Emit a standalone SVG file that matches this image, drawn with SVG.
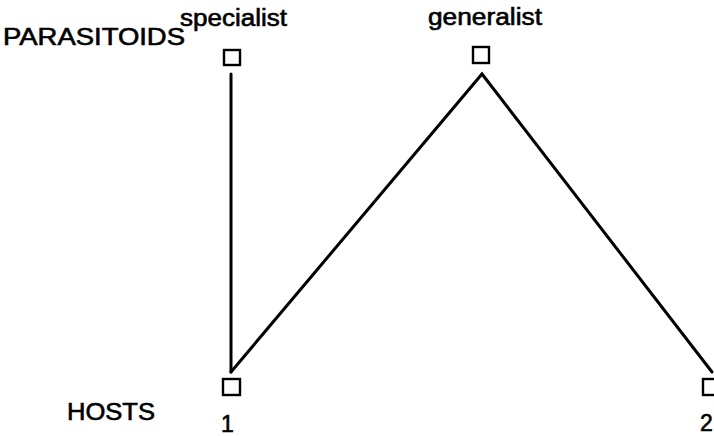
<svg xmlns="http://www.w3.org/2000/svg" width="714" height="436" viewBox="0 0 714 436">
  <style>
    .bg { fill: #ffffff; }
    .node { fill: #ffffff; stroke: #000000; stroke-width: 2.4; }
    .link { fill: none; stroke: #000000; stroke-width: 3; stroke-linecap: round; stroke-linejoin: miter; }
    .lbl { font-family: "Liberation Sans", Arial, sans-serif; font-size: 23px; fill: #000000; stroke: #000000; stroke-width: 0.6; }
  </style>
  <rect class="bg" x="0" y="0" width="714" height="436"/>

  <!-- level labels -->
  <text class="lbl" x="3" y="45" textLength="182" lengthAdjust="spacingAndGlyphs">PARASITOIDS</text>
  <text class="lbl" x="67" y="420" textLength="88" lengthAdjust="spacingAndGlyphs">HOSTS</text>

  <!-- trophic links -->
  <g id="links">
    <line class="link" x1="231" y1="74" x2="231" y2="372"/>
    <polyline class="link" points="231,372 482,74 712,372"/>
  </g>

  <g id="specialist">
    <rect class="node" x="224" y="50" width="16" height="15"/>
    <text class="lbl" x="180" y="26" textLength="107" lengthAdjust="spacingAndGlyphs">specialist</text>
  </g>

  <g id="generalist">
    <rect class="node" x="473" y="47" width="16" height="16"/>
    <text class="lbl" x="428" y="25" textLength="114" lengthAdjust="spacingAndGlyphs">generalist</text>
  </g>

  <g id="host1">
    <rect class="node" x="223" y="379" width="17" height="16"/>
    <text class="lbl" x="221" y="432">1</text>
  </g>

  <g id="host2">
    <rect class="node" x="703" y="379" width="17" height="16"/>
    <text class="lbl" x="700" y="431">2</text>
  </g>
</svg>
